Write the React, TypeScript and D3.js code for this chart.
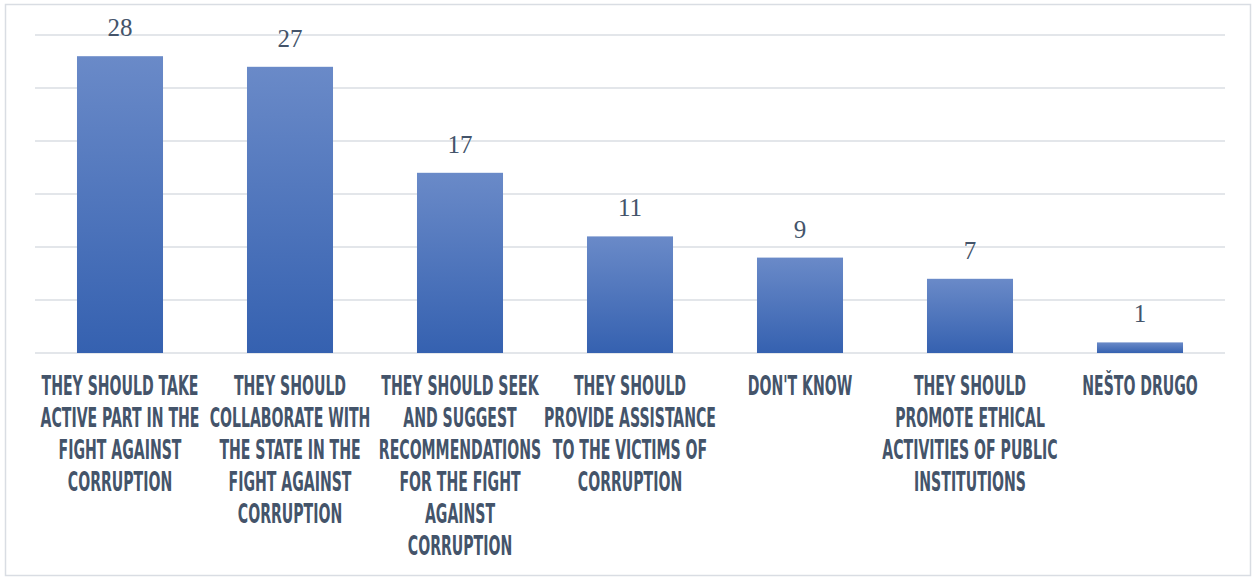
import React from "react";
import * as d3 from "d3";

const categories: string[][] = [
  ["THEY SHOULD TAKE", "ACTIVE PART IN THE", "FIGHT AGAINST", "CORRUPTION"],
  ["THEY SHOULD", "COLLABORATE WITH", "THE STATE IN THE", "FIGHT AGAINST", "CORRUPTION"],
  ["THEY SHOULD SEEK", "AND SUGGEST", "RECOMMENDATIONS", "FOR THE FIGHT", "AGAINST", "CORRUPTION"],
  ["THEY SHOULD", "PROVIDE ASSISTANCE", "TO THE VICTIMS OF", "CORRUPTION"],
  ["DON'T KNOW"],
  ["THEY SHOULD", "PROMOTE ETHICAL", "ACTIVITIES OF PUBLIC", "INSTITUTIONS"],
  ["NEŠTO DRUGO"],
];
const values: number[] = [28, 27, 17, 11, 9, 7, 1];
const gridTicks: number[] = [0, 5, 10, 15, 20, 25, 30];

const W = 1255;
const H = 578;
const plot = { left: 35, right: 1225, top: 35, bottom: 353 };

export default function App() {
  const x = d3
    .scaleBand<number>()
    .domain(values.map((_, i) => i))
    .range([plot.left, plot.right])
    .paddingInner(0.494)
    .paddingOuter(0.247);
  const y = d3.scaleLinear().domain([0, 30]).range([plot.bottom, plot.top]);
  const labelColor = "#44546A";

  return (
    <svg
      width={W}
      height={H}
      style={{ position: "absolute", left: 0, top: 0, background: "#fff" }}
    >
      <defs>
        <linearGradient id="barGrad" x1="0" y1="0" x2="0" y2="1">
          <stop offset="0%" stopColor="#6a8ac8" />
          <stop offset="100%" stopColor="#3561b0" />
        </linearGradient>
      </defs>
      <rect x={5.5} y={4.5} width={1245} height={571} fill="#fff" stroke="#d9dde3" strokeWidth={1.5} />
      {gridTicks.map((t) => (
        <line
          key={t}
          x1={plot.left}
          x2={plot.right}
          y1={y(t)}
          y2={y(t)}
          stroke="#e3e6ea"
          strokeWidth={2}
        />
      ))}
      {values.map((v, i) => (
        <rect
          key={i}
          x={x(i)}
          y={y(v)}
          width={x.bandwidth()}
          height={y(0) - y(v)}
          fill="url(#barGrad)"
        />
      ))}
      {values.map((v, i) => (
        <text
          key={"v" + i}
          x={(x(i) as number) + x.bandwidth() / 2}
          y={y(v) - 20}
          textAnchor="middle"
          fontFamily="'Liberation Serif', 'DejaVu Serif', serif"
          fontSize={25}
          fill={labelColor}
        >
          {v}
        </text>
      ))}
      {categories.map((lines, i) => {
        const cx = (x(i) as number) + x.bandwidth() / 2;
        return (
          <g key={"c" + i} transform={`translate(${cx},0) scale(0.58,1)`}>
            {lines.map((ln, j) => (
              <text
                key={j}
                x={0}
                y={395 + j * 32}
                textAnchor="middle"
                fontFamily="'DejaVu Sans Condensed', 'Liberation Sans Narrow', sans-serif"
                fontWeight="bold"
                fontSize={27}
                fill={labelColor}
              >
                {ln}
              </text>
            ))}
          </g>
        );
      })}
    </svg>
  );
}
